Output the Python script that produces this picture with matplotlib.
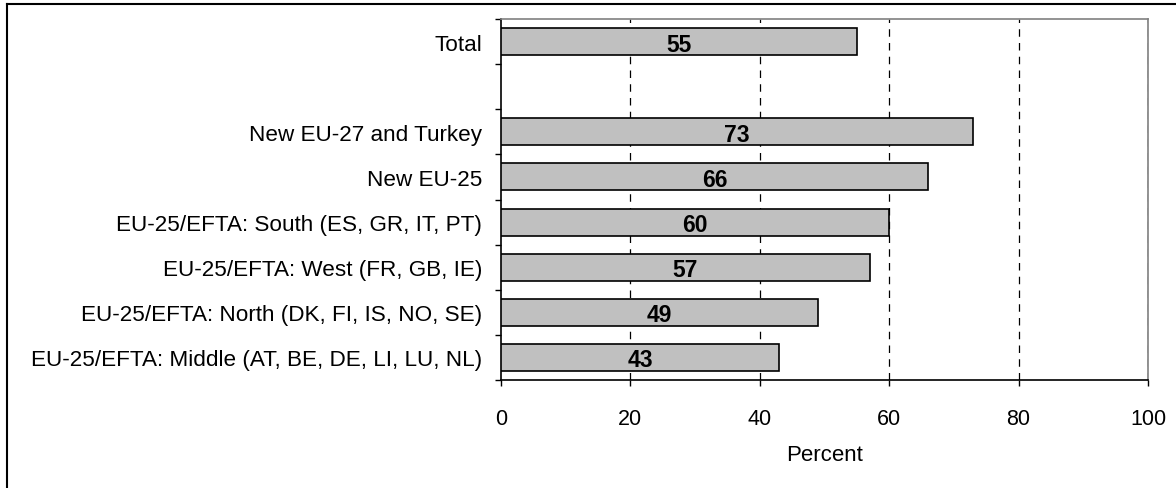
import matplotlib.pyplot as plt
from matplotlib.lines import Line2D

plt.rcParams['font.family'] = ['Liberation Sans', 'DejaVu Sans']

# Regions, bottom to top; None marks the blank gap under "Total"
categories = ['EU-25/EFTA: Middle (AT, BE, DE, LI, LU, NL)',
              'EU-25/EFTA: North (DK, FI, IS, NO, SE)',
              'EU-25/EFTA: West (FR, GB, IE)',
              'EU-25/EFTA: South (ES, GR, IT, PT)',
              'New EU-25',
              'New EU-27 and Turkey',
              '',
              'Total']
values = [43, 49, 57, 60, 66, 73, None, 55]
xticks = [0, 20, 40, 60, 80, 100]

W, H = 1176, 489
fig = plt.figure(figsize=(W / 100, H / 100), dpi=100)
ax = fig.add_axes([501 / W, 1 - 381 / H, (1148 - 501) / W, (381 - 20) / H])

pos = list(range(len(categories)))
for y, v in zip(pos, values):
    if v is None:
        continue
    ax.barh(y, v, height=0.6, color='#c0c0c0', edgecolor='black', linewidth=1.2, zorder=3)
    ax.text(v / 2, y, str(v), ha='center', va='center_baseline', fontsize=16.5,
            fontweight='bold', zorder=4)

ax.set_xlim(0, 100)
ax.set_ylim(-0.5, len(categories) - 0.5)
ax.set_xticks(xticks)
ax.tick_params(axis='x', labelsize=15.5, length=4.5, width=1, direction='out', pad=15.5)

# category labels sit between the ticks, ticks mark the slot boundaries
ax.set_yticks(pos)
ax.set_yticklabels(categories, fontsize=16.2)
ax.tick_params(axis='y', length=0, pad=13.5)
ax.set_yticks([p - 0.5 for p in pos] + [len(pos) - 0.5], minor=True)
ax.tick_params(axis='y', which='minor', length=4.5, width=1, direction='out')

ax.set_xlabel('Percent', fontsize=16, labelpad=11)

for g in xticks[1:]:
    ax.axvline(g, color='black', linestyle=(0, (6, 5)), linewidth=0.9, zorder=1)

for s in ['left', 'bottom']:
    ax.spines[s].set_color('black')
    ax.spines[s].set_linewidth(1.2)
for s in ['top', 'right']:
    ax.spines[s].set_color('#808080')
    ax.spines[s].set_linewidth(1.2)

# outer frame: top and left edges only
fig.add_artist(Line2D([7 / W, 1], [1 - 5 / H, 1 - 5 / H], color='black', linewidth=1.5))
fig.add_artist(Line2D([7 / W, 7 / W], [0, 1 - 5 / H], color='black', linewidth=1.5))

plt.savefig('out.png', dpi=100)
